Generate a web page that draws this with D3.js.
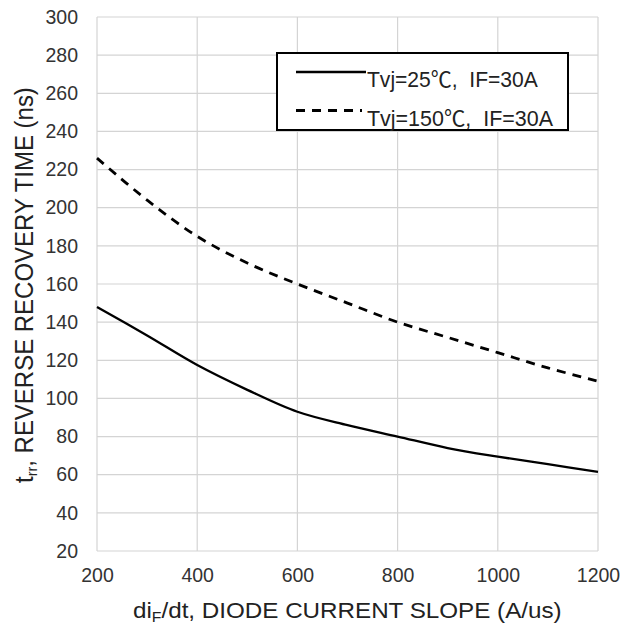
<!DOCTYPE html>
<html><head><meta charset="utf-8">
<script src="https://cdn.jsdelivr.net/npm/d3@7"></script>
<style>
html,body{margin:0;padding:0;background:#fff;}
svg{display:block;font-family:"Liberation Sans",Arial,"Noto Sans CJK SC",sans-serif;}
</style></head><body>
<svg id="c" width="638" height="627"></svg>
<script>
const slopes = [200,300,400,500,600,700,800,900,1000,1100,1200];
const trr25 = [148,133,117.5,104.5,93,86,80,74,69.5,65.5,61.5];
const trr150 = [226,204,185,171,160,150,140,132,124,116,109];
const xTicks = [200,400,600,800,1000,1200];
const yTicks = [20,40,60,80,100,120,140,160,180,200,220,240,260,280,300];
const legendLabels = ["Tvj=25\u2103,  IF=30A","Tvj=150\u2103,  IF=30A"];

const svg = d3.select("#c");
const L=97,R=598,T=17,B=551;
const x = d3.scaleLinear().domain([200,1200]).range([L,R]);
const y = d3.scaleLinear().domain([20,300]).range([B,T]);

// grid
const grid = svg.append("g");
grid.selectAll("line.h").data(yTicks).join("line")
  .attr("x1",L).attr("x2",R).attr("y1",d=>y(d)).attr("y2",d=>y(d))
  .attr("stroke","#d4d4d4").attr("stroke-width",1.2);
grid.selectAll("line.v").data(xTicks).join("line")
  .attr("y1",T).attr("y2",B).attr("x1",d=>x(d)).attr("x2",d=>x(d))
  .attr("stroke","#d4d4d4").attr("stroke-width",1.2);

// axes
const yAxis = svg.append("g").attr("transform",`translate(${L},0)`)
  .call(d3.axisLeft(y).tickValues(yTicks).tickSize(0).tickPadding(19).tickFormat(d3.format("d")));
const xAxis = svg.append("g").attr("transform",`translate(0,${B})`)
  .call(d3.axisBottom(x).tickValues(xTicks).tickSize(0).tickPadding(17).tickFormat(d3.format("d")));
[yAxis,xAxis].forEach(a=>{
  a.select(".domain").remove();
  a.selectAll("text").attr("font-size",19.5).attr("fill","#333")
   .attr("font-family",'"Liberation Sans",Arial,sans-serif');
});

// lines
const line = d3.line().x((d,i)=>x(slopes[i])).y(d=>y(d)).curve(d3.curveCatmullRom.alpha(0.5));
svg.append("path").attr("d",line(trr25)).attr("fill","none").attr("stroke","#000").attr("stroke-width",2.3);
svg.append("path").attr("d",line(trr150)).attr("fill","none").attr("stroke","#000").attr("stroke-width",2.8)
  .attr("stroke-dasharray","9,7");

// legend
const lg = svg.append("g");
lg.append("rect").attr("x",277).attr("y",53).attr("width",291).attr("height",77)
  .attr("fill","#fff").attr("stroke","#000").attr("stroke-width",2);
lg.append("line").attr("x1",296).attr("x2",366).attr("y1",72).attr("y2",72).attr("stroke","#000").attr("stroke-width",2.3);
lg.append("line").attr("x1",296).attr("x2",362).attr("y1",110.5).attr("y2",110.5).attr("stroke","#000").attr("stroke-width",2.8).attr("stroke-dasharray","9,7");

const lt = [[367,87,171],[367,126,186]];
legendLabels.forEach((s,i)=>{
  const g = lg.append("g");
  const t = g.append("text").attr("x",0).attr("y",0).attr("font-size",21.5).attr("fill","#222")
    .style("white-space","pre").text(s);
  const sx = lt[i][2] / t.node().getComputedTextLength();
  g.attr("transform",`translate(${lt[i][0]},${lt[i][1]}) scale(${sx},1)`);
});

// x title
{
  const g = svg.append("g");
  const t = g.append("text").attr("font-size",21.5).attr("fill","#222").attr("text-anchor","start");
  t.append("tspan").text("di");
  t.append("tspan").attr("font-size",14).attr("dy",4).text("F");
  t.append("tspan").attr("dy",-4).text("/dt, DIODE CURRENT SLOPE (A/us)");
  const sx = 429 / t.node().getComputedTextLength();
  g.attr("transform",`translate(133,618) scale(${sx},1)`);
}
// y title
{
  const g = svg.append("g");
  const t = g.append("text").attr("font-size",25).attr("fill","#222").attr("text-anchor","start");
  t.append("tspan").text("t");
  t.append("tspan").attr("font-size",15).attr("dy",4).text("rr");
  t.append("tspan").attr("dy",-4).text(", REVERSE RECOVERY TIME (ns)");
  const sx = 396 / t.node().getComputedTextLength();
  g.attr("transform",`translate(33,483) rotate(-90) scale(${sx},1)`);
}
</script>
</body></html>
